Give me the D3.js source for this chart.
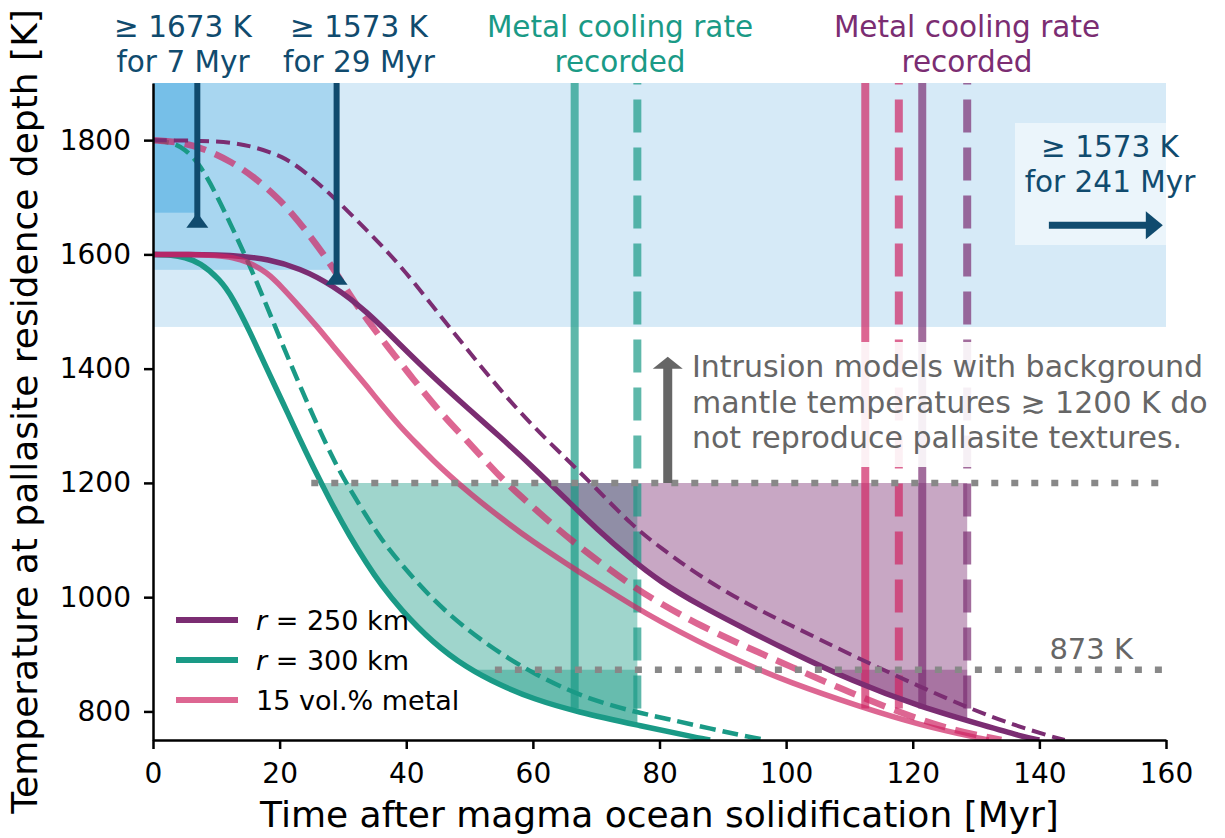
<!DOCTYPE html>
<html>
<head>
<meta charset="utf-8">
<script src="https://cdn.jsdelivr.net/npm/d3@7"></script>
<style>
  body { margin: 0; background: #fff; }
  svg { font-family: "DejaVu Sans", sans-serif; }
</style>
</head>
<body>
<svg id="chart" width="1225" height="838"></svg>
<script>
// cooling curves [time Myr, temperature K]
const r250Base = [[0,1600],[6,1600],[10,1599],[14,1597],[18,1592],[23.2,1576],[28.4,1546],[33.8,1500],[39,1442],[44.2,1386],[49.6,1332],[54.8,1281],[60,1228],[65.4,1170],[70,1120],[75.8,1064],[80,1028],[86.4,985],[94.3,940],[100,908],[110.6,852],[121.2,808],[131.7,774],[137,757],[140,750]]
const r250Hot = [[0,1800],[8,1799],[12.6,1796],[16,1788],[20.5,1772],[24,1745],[28.4,1702],[33.8,1642],[39,1582],[44.2,1509],[49.6,1434],[54.8,1363],[60,1299],[65.4,1241],[69.5,1196],[75.8,1124],[80,1088],[86.4,1036],[94.3,985],[100,955],[110.6,897],[121.2,843],[129,805],[136,776],[142.2,755],[144,750]]
const r300Base = [[0,1600],[3,1599],[5,1595],[7.4,1586],[10.6,1556],[12.6,1524],[15.3,1465],[18,1399],[20.5,1341],[23.2,1276],[25.3,1228],[26.9,1193],[28.4,1160],[31,1108],[33.8,1058],[36,1022],[39,980],[44.2,920],[49.6,876],[54.8,846],[60,822],[67,799],[76.5,776],[86.4,753],[88,750]]
const r300Hot = [[0,1800],[3,1796],[5,1785],[7.4,1758],[10,1705],[12.6,1645],[15.3,1580],[18,1509],[20.5,1441],[23.2,1370],[25.9,1302],[28.4,1243],[30.6,1198],[33.8,1140],[36,1102],[39,1060],[44.2,995],[49.6,943],[54.8,902],[60,867],[65.4,838],[70,818],[75.8,800],[81.2,787],[88,770],[94.3,755],[97,750]]
const metalBase = [[0,1600],[6,1600],[10,1598],[12.6,1595],[15,1587],[18,1569],[20.5,1541],[23.2,1508],[25.9,1474],[28.4,1440],[31.1,1404],[33.8,1369],[36.3,1334],[39,1299],[41.7,1268],[44.2,1240],[47,1211],[50,1182],[55,1138],[60,1097],[65.4,1058],[70,1025],[75.8,985],[80,958],[86.4,921],[90,902],[94.3,880],[100,853],[111.7,808],[121.2,776],[130.6,753],[132,750]]
const metalHot = [[0,1800],[4,1797],[8,1786],[12.6,1761],[16,1735],[20,1697],[24,1645],[28.4,1578],[31.1,1528],[33.8,1486],[37,1439],[40.1,1396],[43.3,1351],[46.4,1311],[49.6,1274],[53.2,1230],[56.4,1193],[60,1158],[63,1128],[67.9,1083],[75.8,1018],[80,990],[86.4,950],[94.3,910],[100,882],[111.7,825],[121.2,785],[127,766],[131.7,755],[134,750]]

// times at which the metal cooling rate is recorded (solid, dashed)
const recordR300 = [66.6, 76.5]
const recordMetal = [112.5, 117.8]
const recordR250 = [121.5, 128.6]

// shaded temperature bands
const bandEnd = [160, 29, 7]
const bandFloor = [1473, 1573, 1673]
const bandTop = 1900

// reference temperatures
const thresholdTemps = [1200, 873]
const thresholdStart = [25, 54]

const timeTicks = [0, 20, 40, 60, 80, 100, 120, 140, 160]
const tempTicks = [800, 1000, 1200, 1400, 1600, 1800]

const purple = "#7b2d72", teal = "#1a9a86", pink = "#ce2564", navy = "#104b6e", grey = "#888888"

var width = 1225, height = 838
var margin = ({top: 83, right: 59, bottom: 98, left: 153})

const svg = d3.select("#chart")

var x = d3.scaleLinear().domain([0, 160]).range([margin.left, width - margin.right])
var y = d3.scaleLinear().domain([750, 1900]).range([height - margin.bottom, margin.top])

svg.append("clipPath").attr("id", "plot")
  .append("rect")
  .attr("x", x(0)).attr("y", y(1900))
  .attr("width", x(160) - x(0)).attr("height", y(750) - y(1900))

const plot = svg.append("g").attr("clip-path", "url(#plot)")

// blue bands
const bandColors = ["#d6eaf7", "#a8d6f0", "#76bfe8"]
plot.selectAll("rect.band")
  .data(bandEnd)
  .join("rect")
  .attr("class", "band")
  .attr("x", x(0))
  .attr("y", y(bandTop))
  .attr("width", d => x(d) - x(0))
  .attr("height", (d, i) => y(bandFloor[i]) - y(bandTop))
  .attr("fill", (d, i) => bandColors[i])

// lighter box behind the 241 Myr label
plot.append("rect")
  .attr("x", 1015).attr("y", 123).attr("width", 160).attr("height", 122)
  .attr("fill", "#fff").attr("fill-opacity", 0.5)

// helpers for cutting a curve into a filled region
function tempAt(pts, t) {
  for (let i = 0; i < pts.length - 1; i++) {
    const a = pts[i], b = pts[i + 1]
    if (t >= a[0] && t <= b[0]) return a[1] + (b[1] - a[1]) * (t - a[0]) / (b[0] - a[0])
  }
  return pts[pts.length - 1][1]
}
function timeAt(pts, T) {
  for (let i = 0; i < pts.length - 1; i++) {
    const a = pts[i], b = pts[i + 1]
    if (T <= a[1] && T >= b[1] && a[1] != b[1]) return a[0] + (b[0] - a[0]) * (a[1] - T) / (a[1] - b[1])
  }
  return pts[pts.length - 1][0]
}
function region(pts, Ttop, tRight) {
  const inner = pts.filter(p => p[1] < Ttop && p[0] < tRight)
  return [[timeAt(pts, Ttop), Ttop], ...inner, [tRight, tempAt(pts, tRight)]]
}

const fills = [
  {pts: r300Base, right: recordR300[1], color: teal},
  {pts: r250Base, right: recordR250[1], color: purple}
]
fills.forEach(f => {
  thresholdTemps.forEach(T => {
    const area = d3.area()
      .curve(d3.curveBasis)
      .y(d => y(d[1]))
      .x0(d => x(d[0]))
      .x1(x(f.right))
    plot.append("path")
      .attr("d", area(region(f.pts, T, f.right)))
      .attr("fill", f.color)
      .attr("fill-opacity", 0.42)
  })
})

// vertical "recorded" lines
const verticals = [
  {t: recordR300, color: teal},
  {t: recordMetal, color: pink},
  {t: recordR250, color: purple}
]
verticals.forEach(v => {
  v.t.forEach((t, i) => {
    plot.append("line")
      .attr("x1", x(t)).attr("x2", x(t))
      .attr("y1", y(805)).attr("y2", y(bandTop))
      .attr("stroke", v.color)
      .attr("stroke-opacity", 0.7)
      .attr("stroke-width", 8)
      .attr("stroke-dasharray", i == 1 ? "33,15" : null)
  })
})

// cooling curves
const line = d3.line().curve(d3.curveBasis).x(d => x(d[0])).y(d => y(d[1]))
const curves = [
  {pts: r300Hot, color: teal, w: 4.5, dash: "16,7", op: 1},
  {pts: metalHot, color: pink, w: 6.5, dash: "22,10", op: 0.7},
  {pts: r250Hot, color: purple, w: 4, dash: "14,7", op: 1},
  {pts: r300Base, color: teal, w: 5.5, dash: null, op: 1},
  {pts: r250Base, color: purple, w: 5.5, dash: null, op: 1},
  {pts: metalBase, color: pink, w: 5.5, dash: null, op: 0.7}
]
curves.forEach(c => {
  plot.append("path")
    .attr("d", line(c.pts))
    .attr("fill", "none")
    .attr("stroke", c.color)
    .attr("stroke-opacity", c.op)
    .attr("stroke-width", c.w)
    .attr("stroke-dasharray", c.dash)
})

// dotted reference temperatures
plot.selectAll("line.ref")
  .data(thresholdTemps)
  .join("line")
  .attr("class", "ref")
  .attr("x1", (d, i) => x(thresholdStart[i]))
  .attr("x2", x(160))
  .attr("y1", d => y(d)).attr("y2", d => y(d))
  .attr("stroke", grey)
  .attr("stroke-width", 6.5)
  .attr("stroke-dasharray", "7,13")

// navy arrows at 7 and 29 Myr
const arrowTimes = [7, 29]
const arrowTemps = [1673, 1573]
arrowTimes.forEach((t, i) => {
  const tip = y(arrowTemps[i])
  plot.append("line")
    .attr("x1", x(t)).attr("x2", x(t))
    .attr("y1", y(bandTop)).attr("y2", tip + 10)
    .attr("stroke", navy).attr("stroke-width", 6)
  plot.append("path")
    .attr("d", `M${x(t)},${tip} L${x(t) + 11},${tip + 15} L${x(t) - 11},${tip + 15} Z`)
    .attr("fill", navy)
})

// arrow pointing right (241 Myr)
const ay = y(1651)
svg.append("line")
  .attr("x1", x(141.5)).attr("x2", x(157))
  .attr("y1", ay).attr("y2", ay)
  .attr("stroke", navy).attr("stroke-width", 7)
svg.append("path")
  .attr("d", `M${x(159.5)},${ay} L${x(159.5) - 17},${ay - 14} L${x(159.5) - 17},${ay + 14} Z`)
  .attr("fill", navy)

// grey arrow and text box
const gx = x(81.3)
svg.append("line")
  .attr("x1", gx).attr("x2", gx)
  .attr("y1", y(1200)).attr("y2", y(1405))
  .attr("stroke", "#666").attr("stroke-width", 9)
svg.append("path")
  .attr("d", `M${gx},${y(1421)} L${gx + 15},${y(1400)} L${gx - 15},${y(1400)} Z`)
  .attr("fill", "#666")
svg.append("rect")
  .attr("x", 684).attr("y", 342).attr("width", 541).attr("height", 125)
  .attr("fill", "#fff").attr("fill-opacity", 0.9)

const greyLines = ["Intrusion models with background", "mantle temperatures \u2273 1200 K do", "not reproduce pallasite textures."]
svg.append("g")
  .selectAll("text")
  .data(greyLines)
  .join("text")
  .attr("x", 692)
  .attr("y", (d, i) => 377 + i * 35.5)
  .attr("fill", "#666")
  .style("font-size", "30px")
  .text(d => d)

svg.append("text")
  .attr("x", 1133).attr("y", 659)
  .attr("text-anchor", "end")
  .attr("fill", "#666")
  .style("font-size", "29px")
  .text("873 K")

// axes
const xAxis = g => g
  .attr("transform", `translate(0,${height - margin.bottom})`)
  .call(d3.axisBottom(x).tickValues(timeTicks).tickFormat(d3.format("d")).tickSize(9).tickPadding(14).tickSizeOuter(0))
const yAxis = g => g
  .attr("transform", `translate(${margin.left},0)`)
  .call(d3.axisLeft(y).tickValues(tempTicks).tickFormat(d3.format("d")).tickSize(9).tickPadding(13).tickSizeOuter(0))

;[xAxis, yAxis].forEach(ax => {
  svg.append("g").call(ax)
    .call(g => g.selectAll("path, line").attr("stroke", "#000").attr("stroke-width", 2.5))
    .call(g => g.selectAll("text").attr("fill", "#000").style("font-size", "28px").style("font-family", "DejaVu Sans"))
})

svg.append("text")
  .attr("x", (x(0) + x(160)) / 2).attr("y", 827)
  .attr("text-anchor", "middle")
  .style("font-size", "36px")
  .text("Time after magma ocean solidification [Myr]")

svg.append("text")
  .attr("transform", `translate(37,${(y(750) + y(1900)) / 2}) rotate(-90)`)
  .attr("text-anchor", "middle")
  .style("font-size", "36px")
  .text("Temperature at pallasite residence depth [K]")

// annotation labels on top
const topLabels = [
  {x: 183, lines: ["\u2265 1673 K", "for 7 Myr"], color: navy},
  {x: 359, lines: ["\u2265 1573 K", "for 29 Myr"], color: navy},
  {x: 620, lines: ["Metal cooling rate", "recorded"], color: teal},
  {x: 967, lines: ["Metal cooling rate", "recorded"], color: purple},
  {x: 1110, lines: ["\u2265 1573 K", "for 241 Myr"], color: navy, y0: 157}
]
topLabels.forEach(l => {
  svg.append("g")
    .selectAll("text")
    .data(l.lines)
    .join("text")
    .attr("x", l.x)
    .attr("y", (d, i) => (l.y0 || 37) + i * 35)
    .attr("text-anchor", "middle")
    .attr("fill", l.color)
    .style("font-size", "29.5px")
    .text(d => d)
})

// legend
const legendNames = ["250 km", "300 km", "15 vol.% metal"]
const legendColors = [purple, teal, pink]
const legendOpacity = [1, 1, 0.7]
const legend = svg.append("g")
legendNames.forEach((name, i) => {
  const ly = 620 + i * 40
  legend.append("line")
    .attr("x1", 176).attr("x2", 238)
    .attr("y1", ly).attr("y2", ly)
    .attr("stroke", legendColors[i]).attr("stroke-opacity", legendOpacity[i]).attr("stroke-width", 6)
  const t = legend.append("text")
    .attr("x", 256).attr("y", ly + 9.5)
    .style("font-size", "27px")
  if (i < 2) {
    t.append("tspan").style("font-style", "italic").text("r")
    t.append("tspan").text(" = " + name)
  } else {
    t.text(name)
  }
})
</script>
</body>
</html>
